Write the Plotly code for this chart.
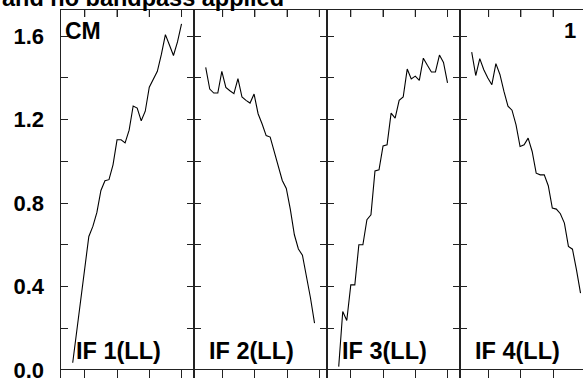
import plotly.graph_objects as go

# ---------------- data ----------------
CHANNELS = list(range(1, 29))
PANEL_LABELS = ["IF 1(LL)", "IF 2(LL)", "IF 3(LL)", "IF 4(LL)"]
IF1 = [0.035, 0.18, 0.336, 0.488, 0.64, 0.688, 0.755, 0.86, 0.907, 0.912, 0.983, 1.103, 1.103, 1.088,
       1.149, 1.265, 1.255, 1.194, 1.24, 1.355, 1.396, 1.431, 1.512, 1.607, 1.557, 1.507, 1.572, 1.658]
IF2 = [1.45, 1.346, 1.327, 1.327, 1.431, 1.354, 1.338, 1.324, 1.396, 1.308, 1.292, 1.279, 1.322, 1.228,
       1.179, 1.123, 1.116, 1.047, 0.975, 0.908, 0.87, 0.77, 0.648, 0.58, 0.55, 0.454, 0.345, 0.225]
IF3 = [0.016, 0.28, 0.237, 0.408, 0.408, 0.6, 0.6, 0.72, 0.744, 0.954, 0.959, 1.074, 1.079, 1.231,
       1.207, 1.292, 1.308, 1.442, 1.395, 1.408, 1.388, 1.494, 1.46, 1.428, 1.428, 1.509, 1.474, 1.376]
IF4 = [1.523, 1.411, 1.492, 1.439, 1.399, 1.367, 1.468, 1.416, 1.335, 1.264, 1.245, 1.175, 1.071, 1.079,
       1.111, 1.047, 0.943, 0.935, 0.935, 0.883, 0.776, 0.771, 0.749, 0.704, 0.592, 0.579, 0.48, 0.368]
SERIES = [IF1, IF2, IF3, IF4]
Y_TICKS = [0.0, 0.2, 0.4, 0.6, 0.8, 1.0, 1.2, 1.4, 1.6]
Y_TICK_TEXT = ["0.0", "", "0.4", "", "0.8", "", "1.2", "", "1.6"]
TITLE = "and no bandpass applied"
CORNER_LEFT = "CM"
CORNER_RIGHT = "1"

# ---------------- layout geometry ----------------
W, H = 583, 378
MT, MB = 0, 0
PH = H - MT - MB
ROW_TOP = 10.0
ROW_BOTTOM = 370.0
Y_LO = (H - ROW_BOTTOM) / PH
Y_HI = (H - ROW_TOP) / PH
PANEL_LEFT = [60.5, 193.5, 326.5, 459.5]
PANEL_W = 133.0
PX_PER_CH = 4.03
X0 = -2.03
TICKS_A = [4, 12, 20, 28]
TICKS_B = [5.2, 13.2, 21.2, 29.2]
TICK_LEN = 7

FONT = "Liberation Sans, Arial, sans-serif"
LINE_C = "#222222"
FRAME_W = 1


def paper_y(px):
    return (H - MB - px) / PH


fig = go.Figure()
layout = dict(
    width=W, height=H,
    margin=dict(l=0, r=0, t=MT, b=MB, pad=0),
    paper_bgcolor="white", plot_bgcolor="rgba(0,0,0,0)",
    showlegend=False,
    font=dict(family=FONT, color="black"),
)


def ax_names(n):
    return (f"xaxis{n}" if n > 1 else "xaxis", f"yaxis{n}" if n > 1 else "yaxis",
            f"x{n}" if n > 1 else "x", f"y{n}" if n > 1 else "y")


shapes = []
for i in range(4):
    left = PANEL_LEFT[i]
    right = min(left + PANEL_W, W)
    dom = [left / W, right / W]
    xr = [X0, X0 + (right - left) / PX_PER_CH]
    ticks = TICKS_A if i % 2 == 0 else TICKS_B
    xa, ya, xt, yt = ax_names(i + 1)
    layout[xa] = dict(
        domain=dom, range=xr, anchor=yt, side="top",
        showline=True, linecolor=LINE_C, linewidth=FRAME_W, mirror=False,
        ticks="inside", ticklen=TICK_LEN, tickwidth=1, tickcolor=LINE_C,
        tickvals=ticks, showticklabels=False, showgrid=False, zeroline=False,
        automargin=False,
    )
    layout[ya] = dict(
        domain=[Y_LO, Y_HI], range=[0, 1.725], anchor=xt,
        showline=True, linecolor=LINE_C, linewidth=FRAME_W,
        mirror="ticks" if i < 3 else False,
        ticks="inside", ticklen=TICK_LEN, tickwidth=1, tickcolor=LINE_C,
        tickvals=Y_TICKS, ticktext=Y_TICK_TEXT,
        showticklabels=(i == 0),
        tickfont=dict(family=FONT, size=22, color="black", weight="bold"),
        ticklabelstandoff=11, ticklabeloverflow="allow",
        showgrid=False, zeroline=False, automargin=False,
    )
    fig.add_trace(go.Scatter(
        x=CHANNELS, y=SERIES[i], mode="lines",
        line=dict(color="black", width=1.1),
        xaxis=xt, yaxis=yt, hoverinfo="skip",
    ))
    for t in ticks:
        if xr[0] < t < xr[1]:
            shapes.append(dict(
                type="line", xref=xt, yref=f"{yt} domain",
                x0=t, x1=t, y0=1, y1=1 - TICK_LEN / (ROW_BOTTOM - ROW_TOP),
                line=dict(color=LINE_C, width=1), layer="above",
            ))
    xa2, ya2, xt2, yt2 = ax_names(i + 5)
    layout[xa2] = dict(
        domain=dom, range=xr, anchor=yt2, side="top",
        showline=True, linecolor=LINE_C, linewidth=FRAME_W, mirror=False,
        ticks="inside", ticklen=8, tickwidth=1, tickcolor=LINE_C,
        tickvals=ticks, showticklabels=False, showgrid=False, zeroline=False,
        automargin=False,
    )
    layout[ya2] = dict(
        domain=[0, Y_LO], range=[0, 1], anchor=xt2,
        showline=True, linecolor=LINE_C, linewidth=FRAME_W,
        mirror=(i < 3), ticks="", showticklabels=False,
        showgrid=False, zeroline=False, automargin=False,
    )
    fig.add_trace(go.Scatter(
        x=[None], y=[None], mode="lines", xaxis=xt2, yaxis=yt2,
        hoverinfo="skip", showlegend=False,
    ))

annotations = []
annotations.append(dict(
    text=f"<b>{TITLE}</b>", xref="paper", yref="paper",
    x=0, y=paper_y(13.5), xanchor="left", yanchor="bottom",
    showarrow=False, font=dict(family=FONT, size=23.5, color="black"),
))
annotations.append(dict(
    text=f"<b>{CORNER_LEFT}</b>", xref="paper", yref="paper",
    x=63 / W, y=paper_y(15.5), xanchor="left", yanchor="top",
    showarrow=False, font=dict(family=FONT, size=23, color="black"),
))
annotations.append(dict(
    text=f"<b>{CORNER_RIGHT}</b>", xref="paper", yref="paper",
    x=578 / W, y=paper_y(16.2), xanchor="right", yanchor="top",
    showarrow=False, font=dict(family=FONT, size=22, color="black"),
))
for i, lab in enumerate(PANEL_LABELS):
    annotations.append(dict(
        text=f"<b>{lab}</b>", xref="paper", yref="paper",
        x=(PANEL_LEFT[i] + 13.5) / W, y=paper_y(365.9),
        xanchor="left", yanchor="bottom",
        showarrow=False, font=dict(family=FONT, size=23.5, color="black"),
    ))
layout["annotations"] = annotations
layout["shapes"] = shapes

fig.update_layout(**layout)
fig.write_html(
    "out.html",
    config={"displayModeBar": False},
    post_script="document.body.style.margin='0';document.body.style.padding='0';"
                "document.body.style.overflow='hidden';",
)
